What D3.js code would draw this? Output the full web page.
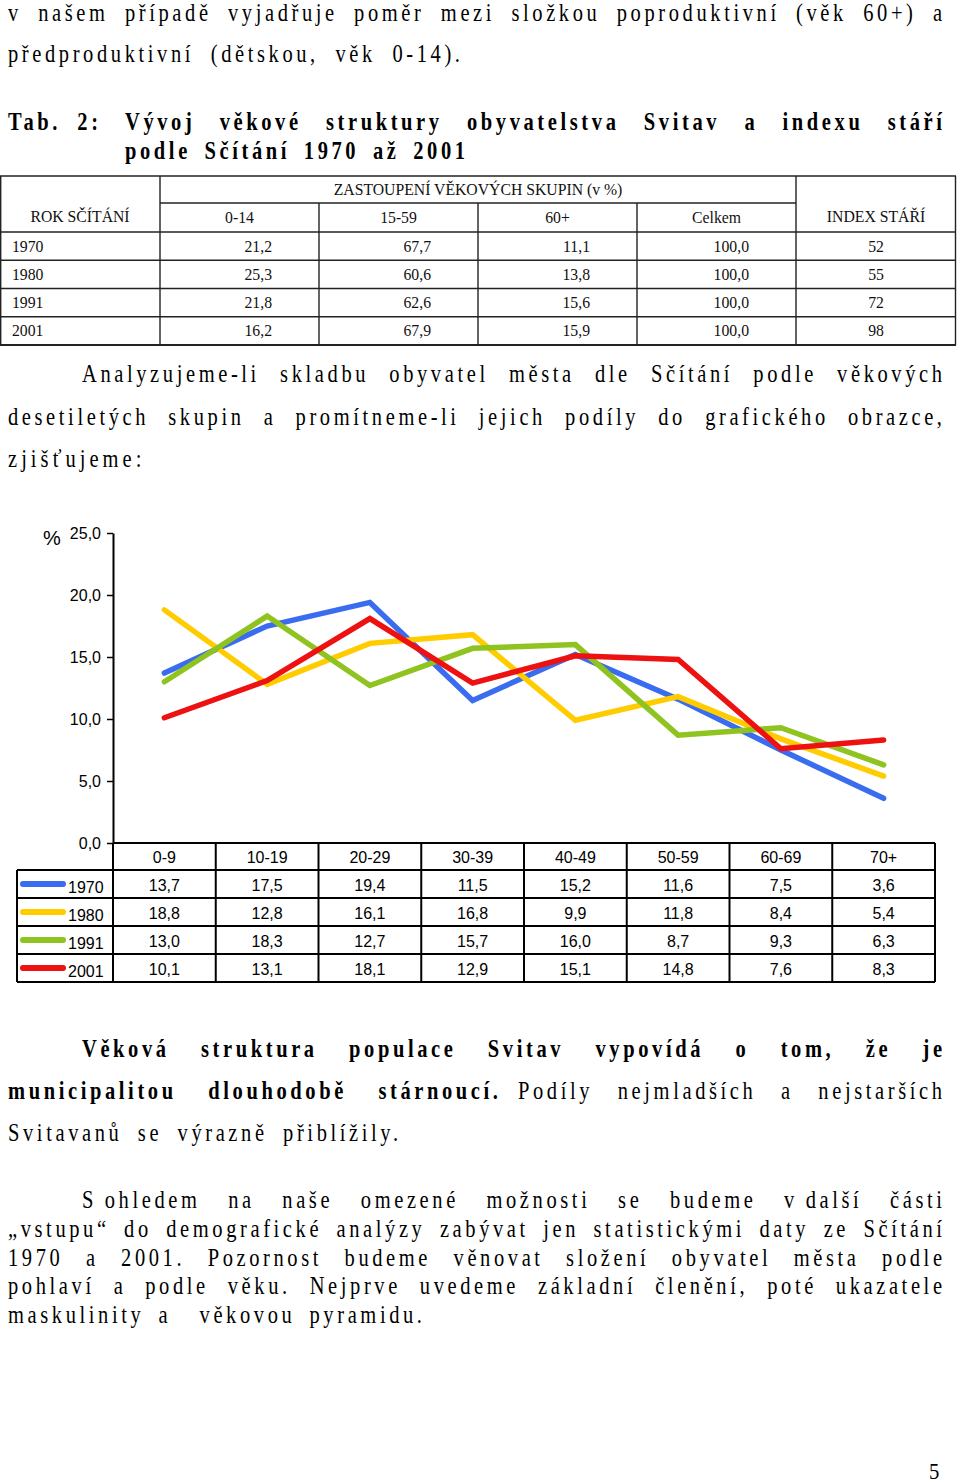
<!DOCTYPE html>
<html><head><meta charset="utf-8">
<script src="https://cdn.jsdelivr.net/npm/d3@7"></script>
<style>
html,body{margin:0;padding:0;background:#fff;}
svg{display:block;}
</style></head>
<body>
<svg id="page" width="960" height="1484"></svg>
<script>
// ---------- DATA ----------
const categories = ["0-9","10-19","20-29","30-39","40-49","50-59","60-69","70+"];
const years = ["1970","1980","1991","2001"];
const v1970 = [13.7,17.5,19.4,11.5,15.2,11.6,7.5,3.6];
const v1980 = [18.8,12.8,16.1,16.8,9.9,11.8,8.4,5.4];
const v1991 = [13.0,18.3,12.7,15.7,16.0,8.7,9.3,6.3];
const v2001 = [10.1,13.1,18.1,12.9,15.1,14.8,7.6,8.3];
const yTicks = [0,5,10,15,20,25];
const seriesColors = ["#3a6cf0","#ffcc00","#8fc31f","#ee1111"];

const tabYears = ["1970","1980","1991","2001"];
const tabCols = ["0-14","15-59","60+","Celkem"];
const share014 = [21.2,25.3,21.8,16.2];
const share1559 = [67.7,60.6,62.6,67.9];
const share60 = [11.1,13.8,15.6,15.9];
const shareTotal = [100.0,100.0,100.0,100.0];
const indexStari = [52,55,72,98];

const fmt = v => v.toFixed(1).replace(".", ",");
const svg = d3.select("#page");
svg.append("rect").attr("width",960).attr("height",1484).attr("fill","#fff");

const SERIF = "'Liberation Serif','Times New Roman',serif";
const SANS = "'Liberation Sans',Arial,sans-serif";

// ---------- BODY TEXT (condensed serif, letter-spaced, justified by word spacing) ----------
const SX = 0.82;
function tline(str, x, y, w, opt = {}) {
  const sx = opt.sx || SX;
  const ls = (opt.ls != null ? opt.ls : 3.6) / sx;
  const t = svg.append("text")
    .attr("transform", `translate(${x},${y}) scale(${sx},1)`)
    .attr("x", 0).attr("y", 0)
    .attr("font-family", SERIF)
    .attr("font-size", opt.size || 25)
    .attr("font-weight", opt.bold ? "bold" : "normal")
    .attr("letter-spacing", ls)
    .attr("fill", "#000")
    .style("white-space", "pre")
    .text(str);
  if (w) {
    const nat = t.node().getComputedTextLength() - ls;
    const nSp = (str.match(/ /g) || []).length;
    if (nSp > 0) {
      t.attr("word-spacing", (w / sx - nat) / nSp);
    } else {
      t.attr("textLength", w / sx).attr("lengthAdjust", "spacing");
    }
  }
  return t;
}
const TS = "\u2009"; // tight (non-stretching) space
tline("v našem případě vyjadřuje poměr mezi složkou poproduktivní (věk 60+) a", 8, 21, 934);
tline("předproduktivní (dětskou, věk 0-14).", 8, 62, 452);
tline("Tab. 2:", 8, 130, 90, {bold:true});
tline("Vývoj věkové struktury obyvatelstva Svitav a indexu stáří", 125, 130, 817, {bold:true});
tline("podle Sčítání 1970 až 2001", 125, 159, 340, {bold:true});

tline("Analyzujeme-li skladbu obyvatel města dle Sčítání podle věkových", 82, 382, 860);
tline("desetiletých skupin a promítneme-li jejich podíly do grafického obrazce,", 8, 425, 934);
tline("zjišťujeme:", 8, 467, 137);

tline("Věková struktura populace Svitav vypovídá o tom, že je", 82, 1057, 860, {bold:true});
tline("municipalitou dlouhodobě stárnoucí.", 8, 1099, 490, {bold:true});
tline("Podíly nejmladších a nejstarších", 518, 1099, 424);
tline("Svitavanů se výrazně přiblížily.", 8, 1141, 390);

tline("S" + TS + "ohledem na naše omezené možnosti se budeme v" + TS + "další části", 82, 1208, 860);
tline("„vstupu“ do demografické analýzy zabývat jen statistickými daty ze Sčítání", 8, 1237, 934);
tline("1970 a 2001. Pozornost budeme věnovat složení obyvatel města podle", 8, 1266, 934);
tline("pohlaví a podle věku. Nejprve uvedeme základní členění, poté ukazatele", 8, 1294, 934);
tline("maskulinity a  věkovou pyramidu.", 8, 1323, 414);
tline("5", 929, 1479, null, {size:23, sx:0.9, ls:0});

// ---------- TABLE 1 ----------
const t1 = svg.append("g");
const t1x = [0, 160, 319, 478, 637, 796, 956];
const t1Top = 176, t1Mid = 203, t1Head = 232, t1Bot = 345;
const rowY = d3.scaleBand().domain(tabYears).range([t1Head, t1Bot]);
const lineAttr = sel => sel.attr("stroke", "#222").attr("stroke-width", 1.4);
function hl(g, x1, x2, y, w) { g.append("line").attr("x1",x1).attr("x2",x2).attr("y1",y).attr("y2",y).call(lineAttr).attr("stroke-width", w || 1.4); }
function vl(g, x, y1, y2, w) { g.append("line").attr("x1",x).attr("x2",x).attr("y1",y1).attr("y2",y2).call(lineAttr).attr("stroke-width", w || 1.4); }
hl(t1, 0, 956, t1Top);
hl(t1, 160, 796, t1Mid);
hl(t1, 0, 956, t1Head);
tabYears.forEach(yr => hl(t1, 0, 956, rowY(yr) + rowY.bandwidth()));
hl(t1, 0, 956, t1Bot, 2);
vl(t1, 0.7, t1Top, t1Bot);
vl(t1, 160, t1Top, t1Bot);
vl(t1, 796, t1Top, t1Bot);
vl(t1, 955.5, t1Top, t1Bot);
[319, 478, 637].forEach(x => vl(t1, x, t1Mid, t1Bot));

function ttext(g, str, x, y, anchor) {
  g.append("text").attr("transform", `translate(${x},${y}) scale(0.9,1)`)
    .attr("text-anchor", anchor || "middle")
    .attr("font-family", SERIF).attr("font-size", 17.5).attr("fill", "#111").text(str);
}
ttext(t1, "ZASTOUPENÍ VĚKOVÝCH SKUPIN (v %)", 478, 195);
ttext(t1, "ROK SČÍTÁNÍ", 80, 222);
ttext(t1, "INDEX STÁŘÍ", 876, 222);
tabCols.forEach((c, i) => ttext(t1, c, (t1x[i+1] + t1x[i+2]) / 2, 223));
const colVals = [share014, share1559, share60, shareTotal];
tabYears.forEach((yr, r) => {
  const by = rowY(yr) + rowY.bandwidth() / 2 + 5.5;
  ttext(t1, yr, 12, by, "start");
  colVals.forEach((arr, i) => ttext(t1, fmt(arr[r]), t1x[i+2] - 47, by, "end"));
  ttext(t1, String(indexStari[r]), 876, by);
});

// ---------- CHART ----------
const ch = svg.append("g");
const x = d3.scaleBand().domain(categories).range([113, 935]);
const y = d3.scaleLinear().domain([0, 25]).range([843, 533]);

const yAxis = d3.axisLeft(y).tickValues(yTicks).tickFormat(fmt).tickSize(6).tickSizeOuter(0).tickPadding(6);
const ax = ch.append("g").attr("transform", "translate(113,0)").call(yAxis);
ax.select(".domain").attr("stroke", "#000").attr("stroke-width", 2);
ax.selectAll(".tick line").attr("stroke", "#000").attr("stroke-width", 1.5);
ax.selectAll(".tick text").attr("font-family", SANS).attr("font-size", 16).attr("fill", "#000");
ch.append("text").attr("x", 43).attr("y", 545).attr("font-family", SANS).attr("font-size", 20).text("%");

const allSeries = [v1970, v1980, v1991, v2001];
const lineGen = d3.line().x((d, i) => x(categories[i]) + x.bandwidth() / 2).y(d => y(d));
allSeries.forEach((s, i) => {
  ch.append("path").attr("d", lineGen(s)).attr("fill", "none")
    .attr("stroke", seriesColors[i]).attr("stroke-width", 5.5)
    .attr("stroke-linejoin", "miter").attr("stroke-linecap", "round");
});

// data table under chart
const dt = svg.append("g");
const dTop = 843, dHead = 870, dBot = 982;
const dRow = d3.scaleBand().domain(years).range([dHead, dBot]);
const bl = sel => sel.attr("stroke", "#000").attr("stroke-width", 2);
dt.append("line").attr("x1", 113).attr("x2", 935).attr("y1", dTop).attr("y2", dTop).call(bl);
dt.append("line").attr("x1", 17).attr("x2", 935).attr("y1", dHead).attr("y2", dHead).call(bl);
years.forEach(yr => dt.append("line").attr("x1", 17).attr("x2", 935)
  .attr("y1", dRow(yr) + dRow.bandwidth()).attr("y2", dRow(yr) + dRow.bandwidth()).call(bl));
dt.append("line").attr("x1", 17).attr("x2", 17).attr("y1", dHead).attr("y2", dBot).call(bl);
categories.forEach(c => dt.append("line").attr("x1", x(c)).attr("x2", x(c)).attr("y1", dTop).attr("y2", dBot).call(bl));
dt.append("line").attr("x1", 935).attr("x2", 935).attr("y1", dTop).attr("y2", dBot).call(bl);

function stext(str, cx, cy, anchor) {
  dt.append("text").attr("x", cx).attr("y", cy).attr("text-anchor", anchor || "middle")
    .attr("font-family", SANS).attr("font-size", 16).attr("fill", "#000").text(str);
}
categories.forEach(c => stext(c, x(c) + x.bandwidth() / 2, 863));
years.forEach((yr, r) => {
  const cy = dRow(yr) + dRow.bandwidth() / 2;
  dt.append("line").attr("x1", 23).attr("x2", 63).attr("y1", cy).attr("y2", cy)
    .attr("stroke", seriesColors[r]).attr("stroke-width", 6).attr("stroke-linecap", "round");
  stext(yr, 68, cy + 9, "start");
  allSeries[r].forEach((v, i) => stext(fmt(v), x(categories[i]) + x.bandwidth() / 2, cy + 7));
});
</script>
</body></html>
